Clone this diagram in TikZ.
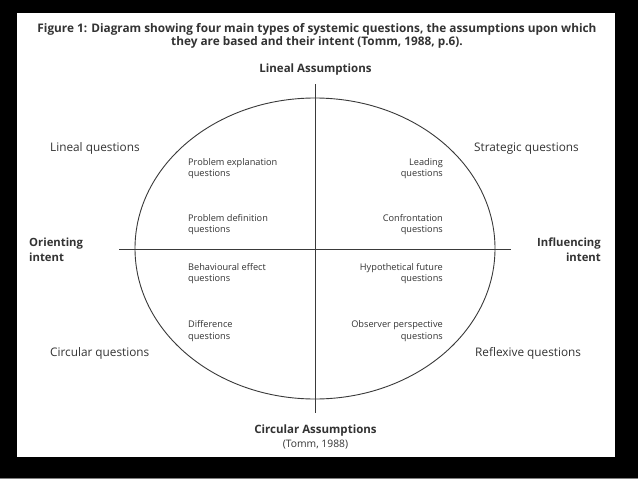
\documentclass[tikz,border=0pt]{standalone}
\usepackage{fontspec}
\setmainfont{Open Sans}
\usetikzlibrary{shapes.geometric}
\definecolor{ink}{HTML}{333333}
\definecolor{edge}{HTML}{3A3A3A}
\tikzset{
  ttl/.style={font=\fontsize{11.8}{13}\selectfont\bfseries, text=ink, inner sep=0pt, align=center},
  axis/.style={font=\fontsize{11.5}{13}\selectfont\bfseries, text=ink, inner sep=0pt},
  qtype/.style={font=\fontsize{11.8}{13}\selectfont, text=ink, inner sep=0pt},
  intent/.style={font=\fontsize{11.3}{15}\selectfont\bfseries, text=ink, inner sep=0pt},
  inner/.style={font=\fontsize{9.2}{11.5}\selectfont, text=ink, inner sep=0pt},
  line/.style={draw=edge, line width=0.9pt},
}
\begin{document}
\begin{tikzpicture}[x=1pt,y=-1pt]
\useasboundingbox (0,0) rectangle (638,479);
\fill[black] (0,0) rectangle (638,479);
\fill[white] (17,13) rectangle (615,457);
\draw[gray, line width=1pt] (0,478.5) -- (638,478.5);

% title
\node[ttl] (title) at (317,35.5) {Figure 1: Diagram showing four main types of systemic questions, the assumptions upon which\\they are based and their intent (Tomm, 1988, p.6).};

% axes and ellipse
\coordinate (vt) at (315,84);
\coordinate (vb) at (315,413);
\coordinate (hl) at (119,249);
\coordinate (hr) at (511,249);
\node[draw=edge, line width=0.9pt, ellipse, minimum width=360pt, minimum height=301pt, inner sep=0pt] (ell) at (315,248.5) {};
\draw[line] (vt) -- (vb);
\draw[line] (hl) -- (hr);

% axis labels
\node[axis] (linass) at (315.5,69.5) {Lineal Assumptions};
\node[axis] (cirass) at (315.5,430.5) {Circular Assumptions};
\node[inner, font=\fontsize{10.3}{11}\selectfont] (ref) at (315.5,444.5) {(Tomm, 1988)};

% question types
\node[qtype, anchor=west] (linq) at (50,148.5) {Lineal questions};
\node[qtype, anchor=west] (strq) at (474,148.5) {Strategic questions};
\node[qtype, anchor=west] (cirq) at (50,353.5) {Circular questions};
\node[qtype, anchor=west] (refq) at (475,353.5) {Reflexive questions};

% intents
\node[intent, anchor=west, align=left] (orient) at (29,249.5) {Orienting\\intent};
\node[intent, anchor=east, align=right] (influ) at (601,249.5) {Influencing\\intent};

% inner left
\node[inner, anchor=west, align=left] (pe) at (188,168.5) {Problem explanation\\questions};
\node[inner, anchor=west, align=left] (pd) at (188,224.5) {Problem definition\\questions};
\node[inner, anchor=west, align=left] (be) at (188,273.5) {Behavioural effect\\questions};
\node[inner, anchor=west, align=left] (dq) at (188,331) {Difference\\questions};

% inner right
\node[inner, anchor=east, align=right] (lq) at (443,168.5) {Leading\\questions};
\node[inner, anchor=east, align=right] (cq) at (443,224.5) {Confrontation\\questions};
\node[inner, anchor=east, align=right] (hf) at (443,273.5) {Hypothetical future\\questions};
\node[inner, anchor=east, align=right] (op) at (443,331) {Observer perspective\\questions};
\end{tikzpicture}
\end{document}
